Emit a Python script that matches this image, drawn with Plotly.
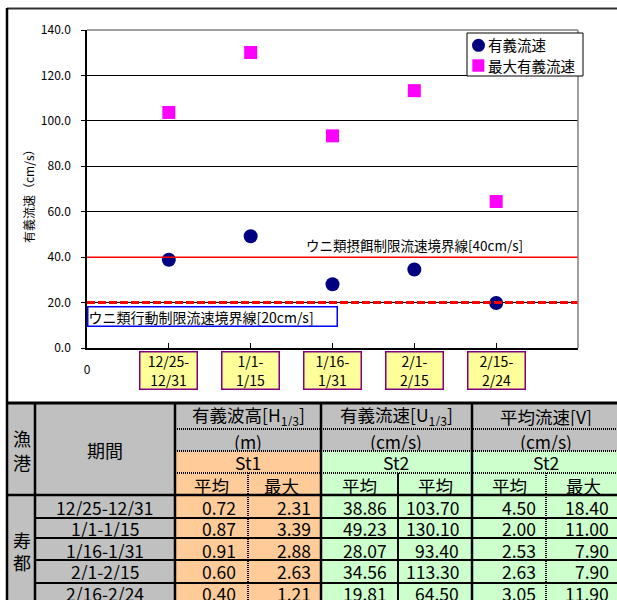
import plotly.graph_objects as go

W, H = 617, 600
FONT = "Noto Sans CJK JP"

# ---- data ----
chart_labels = ["12/25-<br>12/31", "1/1-<br>1/15", "1/16-<br>1/31", "2/1-<br>2/15", "2/15-<br>2/24"]
periods = ["12/25-12/31", "1/1-1/15", "1/16-1/31", "2/1-2/15", "2/16-2/24"]
wave_mean = [0.72, 0.87, 0.91, 0.60, 0.40]
wave_max = [2.31, 3.39, 2.88, 2.63, 1.21]
u13_mean = [38.86, 49.23, 28.07, 34.56, 19.81]
u13_max = [103.70, 130.10, 93.40, 113.30, 64.50]
v_mean = [4.50, 2.00, 2.53, 2.63, 3.05]
v_max = [18.40, 11.00, 7.90, 7.90, 11.90]

y_ticks = [0, 20, 40, 60, 80, 100, 120, 140]
limit_feed = 40   # ウニ類摂餌制限流速
limit_move = 20   # ウニ類行動制限流速

groups = ["有義波高[H<sub>1/3</sub>]", "有義流速[U<sub>1/3</sub>]", "平均流速[V]"]
units = ["(m)", "(cm/s)", "(cm/s)"]
stations = ["St1", "St2", "St2"]
subheads = ["平均", "最大", "平均", "平均", "平均", "最大"]
harbor = "寿都"

xs = list(range(1, len(chart_labels) + 1))


def px(x):
    return x / W


def py(y):
    return 1 - y / H


shapes = []
annotations = []


def line(x0, y0, x1, y1, color="black", width=1, dash=None):
    d = dict(color=color, width=width)
    if dash:
        d["dash"] = dash
    shapes.append(dict(type="line", xref="paper", yref="paper",
                       x0=px(x0), y0=py(y0), x1=px(x1), y1=py(y1), line=d))


def rect(x0, y0, x1, y1, fill, lc=None, lw=0):
    shapes.append(dict(type="rect", xref="paper", yref="paper",
                       x0=px(x0), y0=py(y0), x1=px(x1), y1=py(y1),
                       fillcolor=fill, line=dict(color=lc or fill, width=lw), layer="below"))


def text(s, x, y, size=17, xanchor="center", color="black", h=None):
    a = dict(text=s, xref="paper", yref="paper", x=px(x), y=py(y),
             xanchor=xanchor, yanchor="middle", showarrow=False, borderpad=0,
             font=dict(family=FONT, size=size, color=color))
    if h:
        a["height"] = h
    annotations.append(a)


fig = go.Figure()

fig.add_trace(go.Scatter(x=xs, y=u13_max, mode="markers", name="最大有義流速",
                         marker=dict(symbol="square", size=13, color="#FF00FF", line=dict(width=0))))
fig.add_trace(go.Scatter(x=xs, y=u13_mean, mode="markers", name="有義流速",
                         marker=dict(symbol="circle", size=14, color="#000080", line=dict(width=0))))

# threshold lines
shapes.append(dict(type="line", xref="x", yref="y", x0=0, x1=6, y0=limit_feed, y1=limit_feed,
                   line=dict(color="#FF0000", width=1.5)))
shapes.append(dict(type="line", xref="x", yref="y", x0=0, x1=6, y0=limit_move, y1=limit_move,
                   line=dict(color="#FF0000", width=3, dash="8px,3px")))

annotations.append(dict(text="ウニ類摂餌制限流速境界線[40cm/s]", xref="x", yref="y",
                        x=2.65, y=limit_feed, xanchor="left", yanchor="bottom", showarrow=False,
                        font=dict(family=FONT, size=13.5, color="black")))
annotations.append(dict(text="ウニ類行動制限流速境界線[20cm/s]", xref="x", yref="y",
                        x=0, y=limit_move, xanchor="left", yanchor="top", yshift=-3,
                        showarrow=False, align="left", width=248, height=18,
                        bgcolor="white", bordercolor="#0000FF", borderwidth=1.5, borderpad=0,
                        font=dict(family=FONT, size=14, color="black")))

# category label boxes
for xv, lab in zip(xs, chart_labels):
    annotations.append(dict(text=lab, xref="x", yref="paper", x=xv, y=py(351),
                            xanchor="center", yanchor="top", showarrow=False,
                            width=56, height=36, borderpad=0,
                            bgcolor="#FFFF99", bordercolor="#800080", borderwidth=1.5,
                            font=dict(family=FONT, size=14, color="black")))

# y-axis title
annotations.append(dict(text="有義流速（cm/s）", xref="paper", yref="paper", x=px(28), y=py(193),
                        textangle=-90, showarrow=False, xanchor="center", yanchor="middle",
                        font=dict(family=FONT, size=12, color="black")))

# plot-area border (top / right)
line(87, 30, 578, 30, color="#808080", width=1.5)
line(578, 30, 578, 348, color="#808080", width=1.5)

# legend
shapes.append(dict(type="rect", xref="paper", yref="paper", x0=px(467), y0=py(33), x1=px(583), y1=py(76),
                   fillcolor="white", line=dict(color="black", width=1)))
shapes.append(dict(type="circle", xref="paper", yref="paper", x0=px(472), y0=py(38.8), x1=px(485), y1=py(51.8),
                   fillcolor="#000080", line=dict(width=0)))
shapes.append(dict(type="rect", xref="paper", yref="paper", x0=px(472.3), y0=py(59.3), x1=px(484.3), y1=py(71.7),
                   fillcolor="#FF00FF", line=dict(width=0)))
text("有義流速", 487, 45, size=14.5, xanchor="left")
text("最大有義流速", 487, 66, size=14.5, xanchor="left")

# chart frame
line(7, 8.5, 630, 8.5, color="#303030", width=2)
line(7, 8, 7, 610, color="black", width=2.5)

# ---- table ----
col_x = [7, 35, 175, 248, 321, 398, 472, 546, 625]
row_y = [403, 429, 451, 473, 495, 518, 538, 560, 583, 610]
GRAY, ORANGE, GREEN = "#C0C0C0", "#FFCC99", "#CCFFCC"

rect(7, 403, 175, 610, GRAY)
rect(175, 403, 625, 451, GRAY)
rect(175, 451, 321, 610, ORANGE)
rect(321, 451, 625, 610, GREEN)

# dotted header separators
for y in row_y[1:4]:
    line(175, y, 625, y, width=2, dash="1px,1px")
# dotted column separators (平均/最大)
line(248, 473, 248, 610, width=2, dash="1px,1px")
line(546, 473, 546, 610, width=2, dash="1px,1px")
# solid separators
line(398, 473, 398, 610, width=2)
for y in row_y[5:9]:
    line(35, y, 625, y, width=2)
line(7, 495, 625, 495, width=2.5)
for x in (35, 175, 321, 472):
    line(x, 403, x, 610, width=2.5)
line(7, 403, 625, 403, width=3)

# header text
text("漁", 21.5, 438, size=18, h=20)
text("港", 21.5, 461.5, size=18, h=20)
text("期間", 105, 450, size=18, h=20)
text(harbor[0], 21.5, 540, size=18, h=20)
text(harbor[1], 21.5, 562, size=18, h=20)

group_cx = [248, 396.5, 546]
for g, u, s, cx in zip(groups, units, stations, group_cx):
    text(g, cx, 416, size=17.5, h=20)
    text(u, cx, 441, size=17.5, h=18)
    text(s, cx, 462, size=17.5, h=18)

sub_cx = [211, 281, 360, 435, 509, 583]
for s, cx in zip(subheads, sub_cx):
    text(s, cx, 485, size=17.5, h=18)

# data rows
row_cy = [506.5, 528, 549.5, 571, 593]
value_cols = [wave_mean, wave_max, u13_mean, u13_max, v_mean, v_max]
right_edges = [237, 311.5, 387.5, 460, 536.5, 610]
for r, (per, cy) in enumerate(zip(periods, row_cy)):
    text(per, 105, cy, size=17.5, h=18)
    for col, xr in zip(value_cols, right_edges):
        text(f"{col[r]:.2f}", xr, cy, size=17.5, xanchor="right", h=18)

fig.update_layout(
    width=W, height=H, autosize=False,
    margin=dict(l=0, r=0, t=0, b=0, pad=0),
    paper_bgcolor="white", plot_bgcolor="white",
    showlegend=False,
    font=dict(family=FONT, size=12, color="black"),
    xaxis=dict(domain=[px(87), px(578)], range=[0, 6], automargin=False,
               tickvals=[0], ticktext=["0"],
               ticks="inside", ticklen=5, tickcolor="black", tickwidth=1,
               minor=dict(tickvals=[1, 2, 3, 4, 5, 6], ticks="inside", ticklen=5,
                          tickcolor="black", tickwidth=1, showgrid=False),
               showline=True, linecolor="black", linewidth=1.5,
               showgrid=False, zeroline=False, ticklabelstandoff=10,
               tickfont=dict(family=FONT, size=12, color="black")),
    yaxis=dict(domain=[py(348), py(30)], range=[0, 140], automargin=False,
               tickvals=y_ticks, tickformat=".1f",
               ticks="outside", ticklen=4, tickcolor="black", tickwidth=1,
               showline=True, linecolor="black", linewidth=1.5,
               showgrid=True, gridcolor="black", gridwidth=1, zeroline=False,
               ticklabelstandoff=8,
               tickfont=dict(family=FONT, size=12, color="black")),
    shapes=shapes,
    annotations=annotations,
)

fig.write_html("out.html")
